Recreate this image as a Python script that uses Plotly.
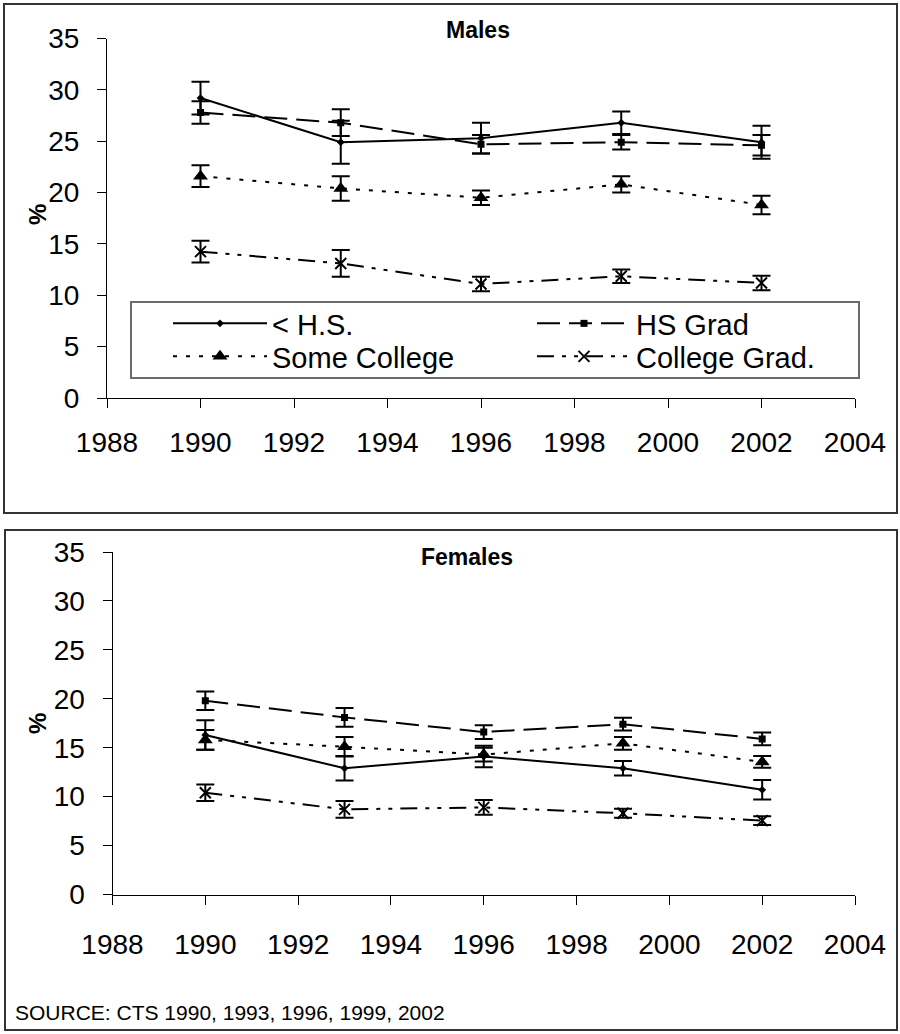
import plotly.graph_objects as go

# Survey years
years = [1990, 1993, 1996, 1999, 2002]

series_names = ["< H.S.", "HS Grad", "Some College", "College Grad."]

# Males: percentages and error half-widths
males_lths = [29.2, 24.9, 25.3, 26.8, 24.9]
males_lths_err = [1.6, 2.1, 1.5, 1.1, 1.6]
males_hsgrad = [27.8, 26.8, 24.7, 24.9, 24.6]
males_hsgrad_err = [1.1, 1.3, 0.9, 0.7, 1.0]
males_somecol = [21.6, 20.4, 19.5, 20.8, 18.8]
males_somecol_err = [1.05, 1.2, 0.7, 0.8, 0.9]
males_colgrad = [14.25, 13.1, 11.1, 11.85, 11.2]
males_colgrad_err = [1.05, 1.3, 0.7, 0.65, 0.7]

# Females: percentages and error half-widths
females_lths = [16.3, 12.9, 14.1, 12.9, 10.7]
females_lths_err = [1.5, 1.25, 1.1, 0.75, 1.0]
females_hsgrad = [19.8, 18.1, 16.6, 17.4, 15.9]
females_hsgrad_err = [0.95, 0.95, 0.7, 0.65, 0.65]
females_somecol = [15.8, 15.1, 14.3, 15.45, 13.55]
females_somecol_err = [1.0, 1.0, 0.7, 0.65, 0.6]
females_colgrad = [10.4, 8.7, 8.9, 8.3, 7.55]
females_colgrad_err = [0.85, 0.85, 0.75, 0.45, 0.45]

x_ticks = [1988, 1990, 1992, 1994, 1996, 1998, 2000, 2002, 2004]
y_ticks = [0, 5, 10, 15, 20, 25, 30, 35]

W, H = 900, 1034
FONT = "Arial, Liberation Sans, sans-serif"

styles = {
    "< H.S.": dict(dash="solid", symbol="diamond", size=6, mline=0, legend="legend"),
    "HS Grad": dict(dash="23px,9px", symbol="square", size=7, mline=0, legend="legend"),
    "Some College": dict(dash="4px,9px", symbol="triangle-up", size=13, mline=0,
                         legend="legend2"),
    "College Grad.": dict(dash="17px,8px,4px,8px,4px,8px", symbol="x-thin", size=11,
                          mline=2, legend="legend2"),
}

panels = [
    ("x", "y", [males_lths, males_hsgrad, males_somecol, males_colgrad],
     [males_lths_err, males_hsgrad_err, males_somecol_err, males_colgrad_err], True),
    ("x2", "y2", [females_lths, females_hsgrad, females_somecol, females_colgrad],
     [females_lths_err, females_hsgrad_err, females_somecol_err, females_colgrad_err], False),
]

fig = go.Figure()
for xa, ya, vals, errs, show in panels:
    for name, v, e in zip(series_names, vals, errs):
        st = styles[name]
        fig.add_trace(go.Scatter(
            x=years, y=v, name=name, xaxis=xa, yaxis=ya, mode="lines+markers",
            showlegend=show, legend=st["legend"],
            line=dict(color="black", width=2, dash=st["dash"]),
            marker=dict(symbol=st["symbol"], size=st["size"], color="black",
                        line=dict(color="black", width=st["mline"])),
            error_y=dict(type="data", array=e, visible=True, color="black",
                         thickness=2, width=9),
        ))


def px_x(p):
    return p / W


def px_y(p):
    return 1 - p / H


def axis_style(standoff):
    return dict(showgrid=False, zeroline=False, showline=True, linecolor="black",
                linewidth=1, ticks="outside", tickcolor="black", tickwidth=1,
                ticklen=9, ticklabelstandoff=standoff,
                tickfont=dict(family=FONT, size=28, color="black"))


def legend_row(top):
    return dict(x=px_x(168), y=px_y(top), xanchor="left", yanchor="top",
                orientation="h", entrywidth=255, entrywidthmode="pixels",
                itemwidth=94, bgcolor="rgba(0,0,0,0)", borderwidth=0,
                font=dict(family=FONT, size=29, color="black"), tracegroupgap=0)


fig.update_layout(
    width=W, height=H, margin=dict(l=0, r=0, t=0, b=0, autoexpand=False),
    paper_bgcolor="white", plot_bgcolor="white",
    font=dict(family=FONT, color="black"),
    xaxis=dict(domain=[px_x(107), px_x(855)], range=[1988, 2004], tickvals=x_ticks,
               anchor="y", **axis_style(10)),
    yaxis=dict(domain=[px_y(398), px_y(38.5)], range=[0, 35], tickvals=y_ticks,
               anchor="x", **axis_style(12)),
    xaxis2=dict(domain=[px_x(112.5), px_x(855)], range=[1988, 2004], tickvals=x_ticks,
                anchor="y2", **axis_style(16)),
    yaxis2=dict(domain=[px_y(894.5), px_y(552)], range=[0, 35], tickvals=y_ticks,
                anchor="x2", **axis_style(12)),
    legend=legend_row(298),
    legend2=legend_row(331),
    shapes=[
        # outer frames of the two panels
        dict(type="rect", xref="paper", yref="paper", x0=px_x(4), x1=px_x(897),
             y0=px_y(513), y1=px_y(4), line=dict(color="#333333", width=2)),
        dict(type="rect", xref="paper", yref="paper", x0=px_x(5), x1=px_x(897),
             y0=px_y(1030), y1=px_y(530), line=dict(color="#333333", width=2)),
        # legend frame
        dict(type="rect", xref="paper", yref="paper", x0=px_x(131), x1=px_x(859),
             y0=px_y(378), y1=px_y(302), line=dict(color="#6a6a6a", width=2),
             fillcolor="white", layer="above"),
    ],
    annotations=[
        dict(text="<b>Males</b>", xref="paper", yref="paper", x=px_x(478), y=px_y(30),
             xanchor="center", yanchor="middle", showarrow=False,
             font=dict(family=FONT, size=23)),
        dict(text="<b>Females</b>", xref="paper", yref="paper", x=px_x(467), y=px_y(557),
             xanchor="center", yanchor="middle", showarrow=False,
             font=dict(family=FONT, size=23)),
        dict(text="<b>%</b>", xref="paper", yref="paper", x=px_x(37), y=px_y(215),
             xanchor="center", yanchor="middle", showarrow=False, textangle=-90,
             font=dict(family=FONT, size=24)),
        dict(text="<b>%</b>", xref="paper", yref="paper", x=px_x(37), y=px_y(724),
             xanchor="center", yanchor="middle", showarrow=False, textangle=-90,
             font=dict(family=FONT, size=24)),
        dict(text="SOURCE: CTS 1990, 1993, 1996, 1999, 2002", xref="paper", yref="paper",
             x=px_x(13), y=px_y(1012), xanchor="left", yanchor="middle", showarrow=False,
             font=dict(family=FONT, size=21)),
    ],
)

fig.write_html("out.html")
